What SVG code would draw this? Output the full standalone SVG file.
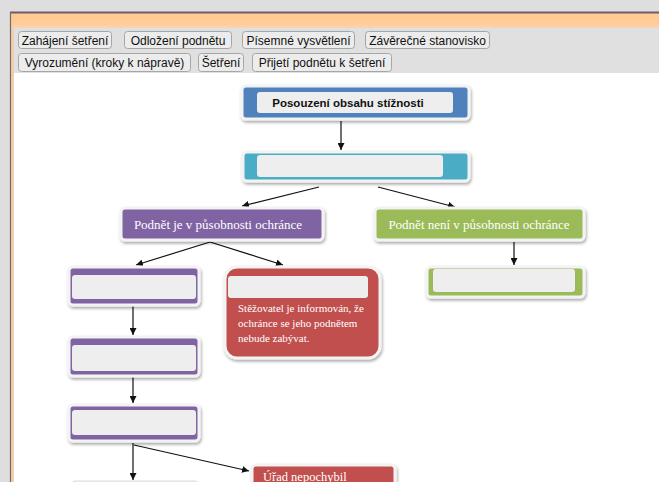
<svg xmlns="http://www.w3.org/2000/svg" width="659" height="482" viewBox="0 0 659 482">
<defs>
<filter id="sh" x="-10%" y="-20%" width="120%" height="150%">
<feGaussianBlur in="SourceAlpha" stdDeviation="1.5"/>
<feOffset dx="1" dy="2" result="b"/>
<feComponentTransfer><feFuncA type="linear" slope="0.35"/></feComponentTransfer>
<feMerge><feMergeNode/><feMergeNode in="SourceGraphic"/></feMerge>
</filter>
<linearGradient id="org" x1="0" y1="0" x2="0" y2="1">
<stop offset="0" stop-color="#ffc98f"/><stop offset="0.75" stop-color="#ffcd98"/><stop offset="1" stop-color="#f3d6bc"/>
</linearGradient>
<marker id="ah" viewBox="0 0 10 10" refX="10" refY="5" markerWidth="7" markerHeight="7" orient="auto" markerUnits="userSpaceOnUse">
<path d="M0,0 L10,5 L0,10 z" fill="#111"/>
</marker>
<style>
.btn{fill:#ececec;stroke:#a6a6a6;stroke-width:1}
.bt{font-family:"Liberation Sans",Arial,sans-serif;font-size:12px;fill:#111}
.node{stroke:#f3f3f3;stroke-width:3;filter:url(#sh)}
.inner{fill:#eeeeee}
.blue{fill:#4f81bd}.teal{fill:#4bacc6}.purp{fill:#8064a2}.green{fill:#9bbb59}.red{fill:#c0504d}
.st{font-family:"Liberation Serif","Times New Roman",serif;fill:#ffffff}
.conn line{stroke:#111;stroke-width:1.2;marker-end:url(#ah)}
</style>
</defs>
<rect width="659" height="482" fill="#dedede"/>
<rect x="11" y="13" width="648" height="15" fill="url(#org)"/>
<line x1="10" y1="12.5" x2="659" y2="12.5" stroke="#6e5a6e" stroke-width="2"/>
<rect x="11" y="28" width="3" height="454" fill="#f2cfae"/>
<line x1="10.5" y1="12" x2="10.5" y2="482" stroke="#7a6a66" stroke-width="1.2"/>
<rect x="14" y="28" width="645" height="45" fill="#e0e0e0"/>
<rect x="14" y="73" width="645" height="409" fill="#ffffff"/>

<g id="toolbar">
<g id="btn-zahajeni"><rect class="btn" x="18.5" y="31.5" width="93" height="17" rx="3"/><text class="bt" x="65" y="44.5" text-anchor="middle">Zahájení šetření</text></g>
<g id="btn-odlozeni"><rect class="btn" x="124.5" y="31.5" width="107" height="17" rx="3"/><text class="bt" x="178" y="44.5" text-anchor="middle">Odložení podnětu</text></g>
<g id="btn-pisemne"><rect class="btn" x="242.5" y="31.5" width="112" height="17" rx="3"/><text class="bt" x="298.5" y="44.5" text-anchor="middle">Písemné vysvětlení</text></g>
<g id="btn-zaverecne"><rect class="btn" x="365.5" y="31.5" width="124" height="17" rx="3"/><text class="bt" x="427.5" y="44.5" text-anchor="middle">Závěrečné stanovisko</text></g>
<g id="btn-vyrozumeni"><rect class="btn" x="18.5" y="53.5" width="172" height="18" rx="3"/><text class="bt" x="104.5" y="66.5" text-anchor="middle">Vyrozumění (kroky k nápravě)</text></g>
<g id="btn-setreni"><rect class="btn" x="198.5" y="53.5" width="45" height="18" rx="3"/><text class="bt" x="221" y="66.5" text-anchor="middle">Šetření</text></g>
<g id="btn-prijeti"><rect class="btn" x="252.5" y="53.5" width="139" height="18" rx="3"/><text class="bt" x="322" y="66.5" text-anchor="middle">Přijetí podnětu k šetření</text></g>
</g>

<g id="connectors" class="conn">
<line x1="341" y1="121" x2="341" y2="150"/>
<line x1="319" y1="187" x2="242" y2="206"/>
<line x1="378" y1="187" x2="455" y2="207"/>
<line x1="514" y1="242" x2="514" y2="265"/>
<line x1="210" y1="242" x2="136" y2="265"/>
<line x1="210" y1="242" x2="283" y2="265"/>
<line x1="133" y1="306" x2="133" y2="335"/>
<line x1="133" y1="377" x2="133" y2="403"/>
<line x1="133" y1="443" x2="133" y2="480"/>
<line x1="134" y1="445" x2="249" y2="471"/>
</g>

<g id="n-posouzeni">
<rect class="node blue" x="242" y="86" width="227" height="33" rx="4"/>
<rect class="inner" x="257" y="92" width="196" height="21" rx="3"/>
<text x="348" y="106.5" text-anchor="middle" font-family="Liberation Sans,Arial,sans-serif" font-size="11.5" font-weight="bold" fill="#111">Posouzení obsahu stížnosti</text>
</g>
<g id="n-teal">
<rect class="node teal" x="243" y="152" width="226" height="29" rx="4"/>
<rect class="inner" x="257" y="155" width="186" height="22" rx="3"/>
</g>
<g id="n-je">
<rect class="node purp" x="121" y="208" width="202" height="32" rx="4"/>
<text class="st" x="218" y="228.5" text-anchor="middle" font-size="13">Podnět je v působnosti ochránce</text>
</g>
<g id="n-neni">
<rect class="node green" x="375" y="208" width="209" height="32" rx="4"/>
<text class="st" x="479" y="228.5" text-anchor="middle" font-size="13">Podnět není v působnosti ochránce</text>
</g>
<g id="n-green2">
<rect class="node green" x="427" y="267" width="157" height="30" rx="4"/>
<rect class="inner" x="433" y="269" width="142" height="23" rx="3"/>
</g>
<g id="n-p1">
<rect class="node purp" x="69" y="267" width="130" height="38" rx="4"/>
<rect class="inner" x="72" y="275" width="124" height="24" rx="3"/>
</g>
<g id="n-p2">
<rect class="node purp" x="69" y="337" width="130" height="39" rx="4"/>
<rect class="inner" x="72" y="345" width="124" height="26" rx="3"/>
</g>
<g id="n-p3">
<rect class="node purp" x="69" y="405" width="130" height="36" rx="4"/>
<rect class="inner" x="72" y="410" width="124" height="25" rx="3"/>
</g>
<g id="n-p4">
<rect x="72" y="481" width="126" height="6" rx="3" fill="#f6f6f6" stroke="#d8d8d8" stroke-width="1"/>
</g>
<g id="n-red">
<rect class="node red" x="225" y="267" width="155" height="91" rx="12"/>
<rect class="inner" x="228" y="276" width="140" height="22" rx="3"/>
<text class="st" font-size="11"><tspan x="238" y="312">Stěžovatel je informován, že</tspan><tspan x="238" y="327">ochránce se jeho podnětem</tspan><tspan x="238" y="342">nebude zabývat.</tspan></text>
</g>
<g id="n-red2">
<rect class="node red" x="252" y="465" width="143" height="30" rx="4"/>
<text class="st" x="263" y="480.5" font-size="12.5">Úřad nepochybil</text>
</g>
</svg>
